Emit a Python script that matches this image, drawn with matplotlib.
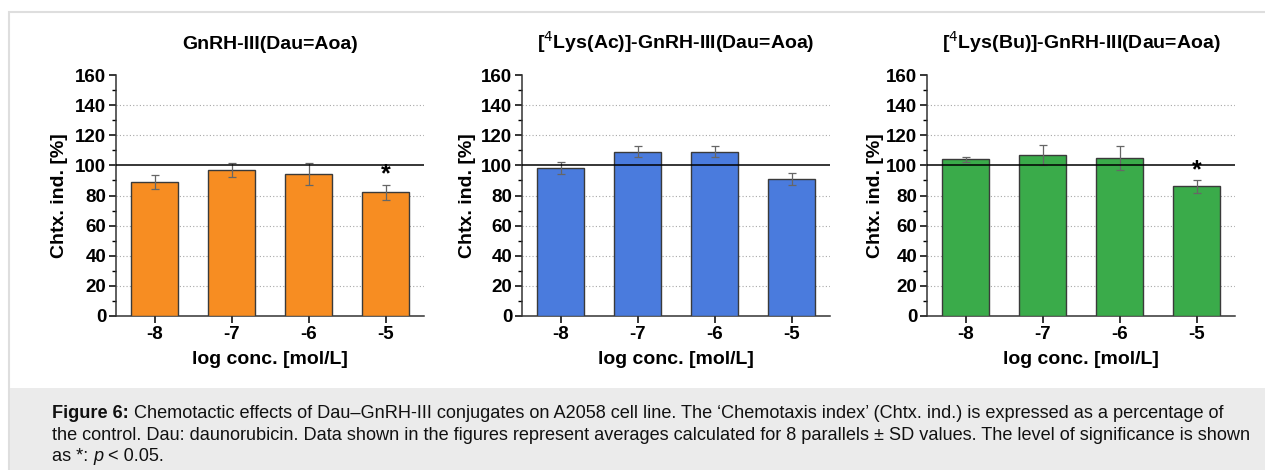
import matplotlib.pyplot as plt
from matplotlib.patches import Rectangle
from matplotlib.ticker import MultipleLocator

plt.rcParams['font.family'] = ['Liberation Sans', 'DejaVu Sans']

log_conc = [-8, -7, -6, -5]
xtick_labels = ['-8', '-7', '-6', '-5']

titles = ['GnRH-III(Dau=Aoa)',
          r'[$^{4}$Lys(Ac)]-GnRH-III(Dau=Aoa)',
          r'[$^{4}$Lys(Bu)]-GnRH-III(Dau=Aoa)']

# mean chemotaxis index [%] and SD
dau_aoa = [89, 97, 94, 82]
dau_aoa_sd = [4.7, 4.6, 7.3, 5.3]
lys_ac = [98, 109, 109, 91]
lys_ac_sd = [4.0, 3.6, 3.7, 3.7]
lys_bu = [104, 107, 105, 86]
lys_bu_sd = [1.8, 6.8, 7.8, 4.3]

# significance marks (p < 0.05)
sig_dau_aoa = ['', '', '', '*']
sig_lys_ac = ['', '', '', '']
sig_lys_bu = ['', '', '', '*']

colors = ['#f78d22', '#4a7bdd', '#3aab4a']

fig = plt.figure(figsize=(12.65, 4.7), dpi=100)
W, H = 1265, 470

# frame and caption background
fig.add_artist(Rectangle((9 / W, -0.01), 1, (H - 12) / H + 0.01, transform=fig.transFigure,
                         facecolor='white', edgecolor='#dedede', linewidth=1.5,
                         zorder=-10))
fig.add_artist(Rectangle((10 / W, 0), 1, (H - 388) / H, transform=fig.transFigure,
                         facecolor='#ebebeb', edgecolor='none', zorder=-9))

panels = [(dau_aoa, dau_aoa_sd, sig_dau_aoa),
          (lys_ac, lys_ac_sd, sig_lys_ac),
          (lys_bu, lys_bu_sd, sig_lys_bu)]
lefts = [116, 522, 927]
ylab_x = [60, 468, 875]

for i, (vals, sd, sig) in enumerate(panels):
    ax = fig.add_axes([lefts[i] / W, (H - 316) / H, 308 / W, 241 / H])
    ax.patch.set_alpha(0)
    ax.bar(log_conc, vals, width=0.6, color=colors[i], edgecolor='#3a3a3a',
           linewidth=1, zorder=3)
    ax.errorbar(log_conc, vals, yerr=sd, fmt='none', ecolor='#666666',
                elinewidth=0.9, capsize=3, capthick=0.9, zorder=4)
    for x, v, s, m in zip(log_conc, vals, sd, sig):
        if m:
            ax.text(x, v + s - 1.5, m, ha='center', va='bottom', fontsize=18,
                    fontweight='bold')
    ax.axhline(100, color='black', linewidth=1.1, zorder=5)
    for g in range(20, 160, 20):
        if g != 100:
            ax.axhline(g, color='#a8a8a8', linestyle=(0, (1, 2)), linewidth=0.8,
                       zorder=1)
    ax.set_xlim(-8.5, -4.5)
    ax.set_ylim(0, 160)
    ax.set_xticks(log_conc)
    ax.set_xticklabels(xtick_labels)
    ax.yaxis.set_major_locator(MultipleLocator(20))
    ax.yaxis.set_minor_locator(MultipleLocator(10))
    ax.tick_params(axis='both', which='major', labelsize=13.5, length=5, width=1.1,
                   pad=2)
    ax.tick_params(axis='y', which='minor', length=3, width=1)
    for lab in ax.get_xticklabels() + ax.get_yticklabels():
        lab.set_fontweight('bold')
    for side in ['top', 'right']:
        ax.spines[side].set_visible(False)
    for side in ['left', 'bottom']:
        ax.spines[side].set_linewidth(1.1)
        ax.spines[side].set_color('#333333')
    ax.set_xlabel('log conc. [mol/L]', fontsize=14, fontweight='bold', labelpad=6)
    ax.set_title(titles[i], fontsize=14, fontweight='bold', pad=19)
    fig.text(ylab_x[i] / W, (H - 196) / H, 'Chtx. ind. [%]', rotation=90,
             fontsize=14, fontweight='bold', ha='center', va='center')

# caption, with bold / italic runs placed one after another
lines = [
    [('Figure 6:', 'bold', 'normal'),
     (' Chemotactic effects of Dau\u2013GnRH-III conjugates on A2058 cell line. '
      'The \u2018Chemotaxis index\u2019 (Chtx. ind.) is expressed as a percentage of',
      'normal', 'normal')],
    [('the control. Dau: daunorubicin. Data shown in the figures represent averages '
      'calculated for 8 parallels \u00b1 SD values. The level of significance is shown',
      'normal', 'normal')],
    [('as *: ', 'normal', 'normal'), ('p', 'normal', 'italic'),
     (' < 0.05.', 'normal', 'normal')],
]
baselines = [418, 440, 461]
renderer = fig.canvas.get_renderer()
for segs, yb in zip(lines, baselines):
    x = 52
    for txt, wt, st in segs:
        t = fig.text(x / W, (H - yb) / H, txt, fontsize=13.1, fontweight=wt,
                     fontstyle=st, va='baseline', ha='left', color='#111111')
        bb = t.get_window_extent(renderer)
        x = bb.x1

fig.savefig('out.png', dpi=100)
